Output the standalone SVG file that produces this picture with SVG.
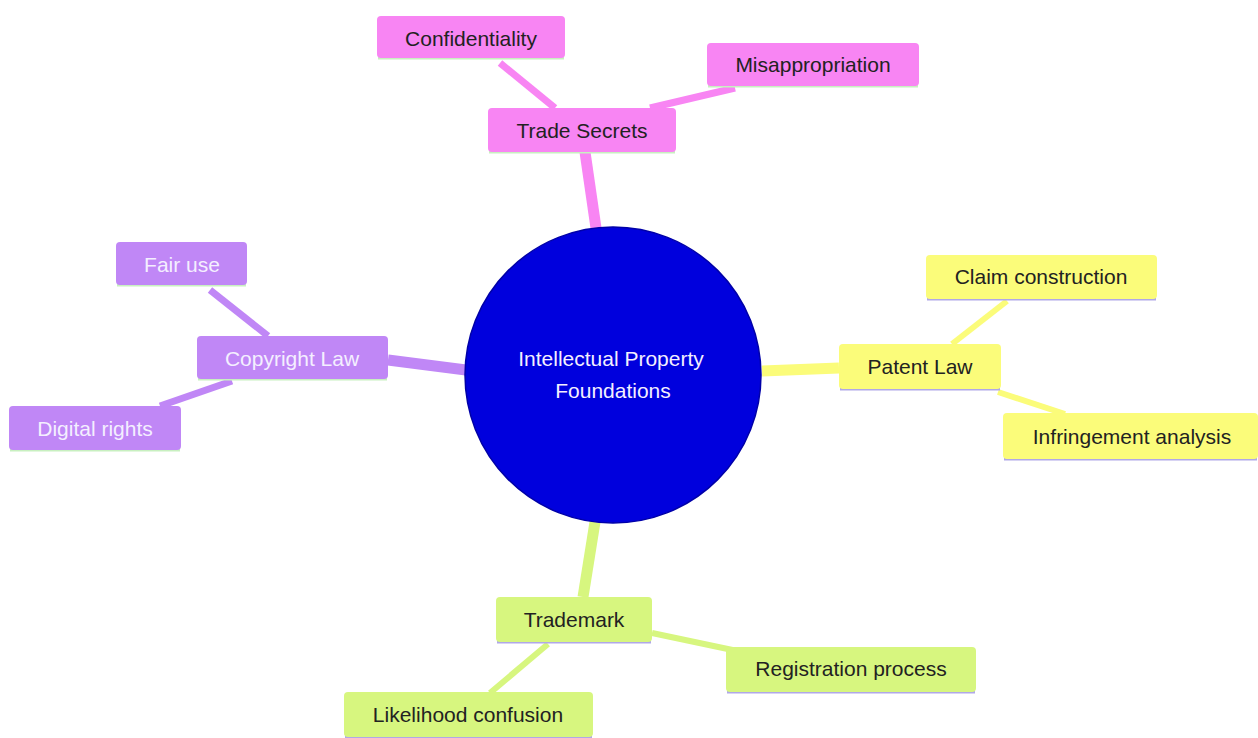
<svg xmlns="http://www.w3.org/2000/svg" width="1258" height="738" viewBox="0 0 1258 738">
<style>
text{font-family:"Liberation Sans",Arial,sans-serif;font-size:21px;text-anchor:middle;dominant-baseline:central;fill:#222}
.pk{fill:#f885f3}.pu{fill:#c087f6}.ye{fill:#fbfc7a}.gr{fill:#d7f67f}
.lt{fill:#f4efff}
.bg{stroke:#c8f0c0;stroke-width:3}.bl{stroke:#b0a8e8;stroke-width:3}
line{stroke-linecap:butt}
</style>
<rect width="1258" height="738" fill="#fff"/>
<g id="connectors">
<line x1="596" y1="228" x2="585" y2="152" stroke="#f885f3" stroke-width="11"/>
<line x1="466" y1="370" x2="388" y2="360" stroke="#c087f6" stroke-width="11"/>
<line x1="762" y1="371" x2="839" y2="368" stroke="#fbfc7a" stroke-width="11"/>
<line x1="595" y1="522" x2="583" y2="597" stroke="#d7f67f" stroke-width="11"/>
<line x1="555" y1="108" x2="500" y2="63" stroke="#f885f3" stroke-width="7"/>
<line x1="650" y1="108" x2="735" y2="88" stroke="#f885f3" stroke-width="7"/>
<line x1="268" y1="336" x2="210" y2="290" stroke="#c087f6" stroke-width="7"/>
<line x1="232" y1="381" x2="160" y2="406" stroke="#c087f6" stroke-width="7"/>
<line x1="952" y1="344" x2="1007" y2="301" stroke="#fbfc7a" stroke-width="6"/>
<line x1="998" y1="392" x2="1065" y2="414" stroke="#fbfc7a" stroke-width="6"/>
<line x1="548" y1="644" x2="490" y2="693" stroke="#d7f67f" stroke-width="6"/>
<line x1="652" y1="633" x2="742" y2="652" stroke="#d7f67f" stroke-width="6"/>
</g>
<g id="center">
<circle cx="613" cy="375" r="148" fill="#0000dd" stroke="#0000a8" stroke-width="1.5"/>
<text x="611" y="358" class="lt">Intellectual Property</text>
<text x="613" y="390" class="lt">Foundations</text>
</g>
<g id="trade-secrets">
<line x1="489" y1="152" x2="675" y2="152" class="bg"/>
<rect x="488" y="108" width="188" height="44" rx="4" class="pk"/>
<text x="582" y="130">Trade Secrets</text>
</g>
<g id="confidentiality">
<line x1="378" y1="58" x2="564" y2="58" class="bg"/>
<rect x="377" y="16" width="188" height="42" rx="4" class="pk"/>
<text x="471" y="38">Confidentiality</text>
</g>
<g id="misappropriation">
<line x1="708" y1="86" x2="918" y2="86" class="bg"/>
<rect x="707" y="43" width="212" height="43" rx="4" class="pk"/>
<text x="813" y="64">Misappropriation</text>
</g>
<g id="copyright-law">
<line x1="198" y1="379" x2="387" y2="379" class="bg"/>
<rect x="197" y="336" width="191" height="43" rx="4" class="pu"/>
<text x="292" y="358" class="lt">Copyright Law</text>
</g>
<g id="fair-use">
<line x1="117" y1="285" x2="246" y2="285" class="bg"/>
<rect x="116" y="242" width="131" height="43" rx="4" class="pu"/>
<text x="182" y="264" class="lt">Fair use</text>
</g>
<g id="digital-rights">
<line x1="10" y1="450" x2="180" y2="450" class="bg"/>
<rect x="9" y="406" width="172" height="44" rx="4" class="pu"/>
<text x="95" y="428" class="lt">Digital rights</text>
</g>
<g id="patent-law">
<line x1="840" y1="389" x2="1000" y2="389" class="bl"/>
<rect x="839" y="344" width="162" height="45" rx="4" class="ye"/>
<text x="920" y="366">Patent Law</text>
</g>
<g id="claim-construction">
<line x1="927" y1="299" x2="1156" y2="299" class="bl"/>
<rect x="926" y="255" width="231" height="44" rx="4" class="ye"/>
<text x="1041" y="276">Claim construction</text>
</g>
<g id="infringement-analysis">
<line x1="1004" y1="459" x2="1257" y2="459" class="bl"/>
<rect x="1003" y="413" width="255" height="46" rx="4" class="ye"/>
<text x="1132" y="436">Infringement analysis</text>
</g>
<g id="trademark">
<line x1="497" y1="642" x2="651" y2="642" class="bl"/>
<rect x="496" y="597" width="156" height="45" rx="4" class="gr"/>
<text x="574" y="619">Trademark</text>
</g>
<g id="registration-process">
<line x1="727" y1="692" x2="975" y2="692" class="bl"/>
<rect x="726" y="647" width="250" height="45" rx="4" class="gr"/>
<text x="851" y="668">Registration process</text>
</g>
<g id="likelihood-confusion">
<line x1="345" y1="737" x2="592" y2="737" class="bl"/>
<rect x="344" y="692" width="249" height="45" rx="4" class="gr"/>
<text x="468" y="714">Likelihood confusion</text>
</g>
</svg>
